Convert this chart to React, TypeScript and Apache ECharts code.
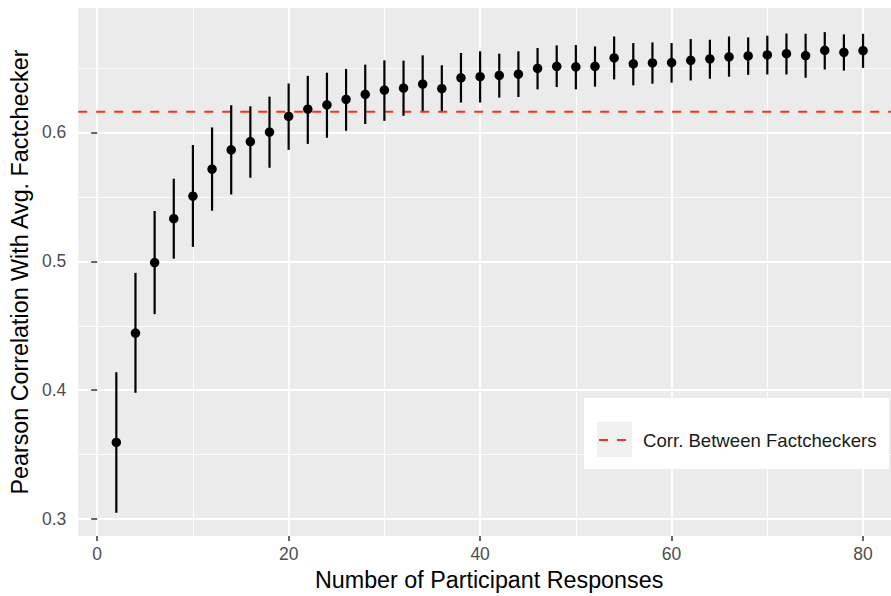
import React, { useEffect, useRef } from "react";
import * as echarts from "echarts";

const responses = [2,4,6,8,10,12,14,16,18,20,22,24,26,28,30,32,34,36,38,40,42,44,46,48,50,52,54,56,58,60,62,64,66,68,70,72,74,76,78,80];
const meanCorr = [0.3595,0.4443,0.499,0.533,0.5505,0.5715,0.5864,0.5928,0.6002,0.6123,0.6179,0.6212,0.6256,0.6295,0.6328,0.6343,0.6374,0.6338,0.6423,0.6431,0.6441,0.6451,0.6495,0.6512,0.6508,0.6512,0.6577,0.6531,0.6538,0.6541,0.6558,0.6569,0.6585,0.6592,0.66,0.661,0.6595,0.6636,0.662,0.6633];
const upperCorr = [0.414,0.491,0.539,0.564,0.5902,0.6038,0.621,0.6202,0.6277,0.6379,0.6438,0.6462,0.6492,0.6525,0.6558,0.6556,0.6597,0.652,0.6615,0.6628,0.661,0.6628,0.6654,0.6674,0.6677,0.6666,0.6743,0.6692,0.6697,0.6692,0.6723,0.6718,0.6743,0.6736,0.6749,0.6766,0.6764,0.6777,0.6759,0.6764];
const lowerCorr = [0.305,0.398,0.459,0.502,0.5112,0.5392,0.5518,0.5648,0.5725,0.5864,0.591,0.5958,0.6012,0.6064,0.6089,0.6128,0.6166,0.6166,0.6231,0.6231,0.6269,0.6274,0.6333,0.6351,0.6333,0.6354,0.641,0.6364,0.6377,0.6385,0.6402,0.6415,0.6431,0.6446,0.6449,0.6449,0.6423,0.6487,0.6479,0.65];
const factcheckerCorr = 0.6159;

const xMajorTicks = [0, 20, 40, 60, 80];
const xMinorTicks = [10, 30, 50, 70];
const yMajorTicks = [0.3, 0.4, 0.5, 0.6];
const yMinorTicks = [0.35, 0.45, 0.55, 0.65];

const legendLabel = "Corr. Between Factcheckers";
const xTitle = "Number of Participant Responses";
const yTitle = "Pearson Correlation With Avg. Factchecker";

const FONT = "'Liberation Sans', Arial, Helvetica, sans-serif";

export default function App() {
  const ref = useRef<HTMLDivElement>(null);
  useEffect(() => {
    if (!ref.current) return;
    const chart = echarts.init(ref.current, undefined, { renderer: "svg" });
    const xMin = -1.98, xMax = 82.92, yMin = 0.2869, yMax = 0.6964;
    const errData = responses.map((n, i) => [n, lowerCorr[i], upperCorr[i]]);
    const ptData = responses.map((n, i) => [n, meanCorr[i]]);
    const refLineData = [[xMin, factcheckerCorr], [xMax, factcheckerCorr]];
    const grid = { left: 76, top: 8, right: 0, bottom: 56, show: true, backgroundColor: "#EBEBEB", borderWidth: 0 };
    const majorSplit = { show: true, lineStyle: { color: "#FFFFFF", width: 1.8 } };
    const minorSplit = { show: true, lineStyle: { color: "#FFFFFF", width: 0.9 } };
    chart.setOption({
      animation: false,
      backgroundColor: "#FFFFFF",
      textStyle: { fontFamily: FONT },
      grid,
      xAxis: [
        {
          type: "value", min: xMin, max: xMax, position: "bottom",
          axisLine: { show: false },
          axisTick: { show: true, length: 5, lineStyle: { color: "#333333", width: 1.5 }, customValues: xMajorTicks },
          axisLabel: { show: true, customValues: xMajorTicks, color: "#4D4D4D", fontSize: 17.5, margin: 9, fontFamily: FONT },
          splitLine: majorSplit,
          name: xTitle, nameLocation: "middle", nameGap: 28,
          nameTextStyle: { fontSize: 23.3, color: "#000000", fontFamily: FONT, padding: [0, 0, 0, 9] },
          z: 1,
        },
        {
          type: "value", min: xMin, max: xMax, position: "bottom",
          axisLine: { show: false },
          axisTick: { show: false, customValues: xMinorTicks },
          axisLabel: { show: false, customValues: xMinorTicks },
          splitLine: minorSplit,
          z: 0,
        },
      ],
      yAxis: [
        {
          type: "value", min: yMin, max: yMax, position: "left",
          axisLine: { show: false },
          axisTick: { show: true, length: 6, lineStyle: { color: "#333333", width: 1.5 }, customValues: yMajorTicks },
          axisLabel: { show: true, customValues: yMajorTicks, color: "#4D4D4D", fontSize: 17.5, margin: 12, fontFamily: FONT, formatter: (v: number) => v.toFixed(1) },
          splitLine: majorSplit,
          name: yTitle, nameLocation: "middle", nameGap: 44,
          nameTextStyle: { fontSize: 23.3, color: "#000000", fontFamily: FONT },
          z: 1,
        },
        {
          type: "value", min: yMin, max: yMax, position: "left",
          axisLine: { show: false },
          axisTick: { show: false, customValues: yMinorTicks },
          axisLabel: { show: false, customValues: yMinorTicks },
          splitLine: minorSplit,
          z: 0,
        },
      ],
      series: [
        {
          type: "line",
          xAxisIndex: 0, yAxisIndex: 0,
          data: refLineData,
          showSymbol: false,
          symbol: "none",
          silent: true,
          lineStyle: { color: "#F8301A", width: 2, type: [9, 9] },
          z: 2,
        },
        {
          type: "custom",
          xAxisIndex: 0, yAxisIndex: 0,
          data: errData,
          z: 3,
          renderItem: (params: any, api: any) => {
            const x = api.value(0);
            const p1 = api.coord([x, api.value(1)]);
            const p2 = api.coord([x, api.value(2)]);
            return {
              type: "line",
              shape: { x1: p1[0], y1: p1[1], x2: p2[0], y2: p2[1] },
              style: { stroke: "#000000", lineWidth: 2.2 },
            };
          },
        },
        {
          type: "scatter",
          xAxisIndex: 0, yAxisIndex: 0,
          data: ptData,
          symbol: "circle",
          symbolSize: 9.5,
          itemStyle: { color: "#000000", opacity: 1 },
          z: 4,
        },
      ],
      graphic: [
        {
          type: "group",
          left: 584, top: 398,
          z: 100,
          children: [
            { type: "rect", z: 100, shape: { x: 0, y: 0, width: 305, height: 71 }, style: { fill: "#FFFFFF" } },
            { type: "rect", z: 101, shape: { x: 13, y: 24, width: 35, height: 35 }, style: { fill: "#F0F0F0" } },
            { type: "line", z: 102, shape: { x1: 15, y1: 42, x2: 44, y2: 42 }, style: { stroke: "#F8301A", lineWidth: 2, lineDash: [9, 9] } },
            { type: "text", z: 102, x: 59, y: 42, style: { text: legendLabel, fontSize: 18.6, fill: "#1A1A1A", fontFamily: FONT, verticalAlign: "middle", align: "left" } },
          ],
        },
      ],
    });
    return () => chart.dispose();
  }, []);
  return <div ref={ref} style={{ position: "fixed", left: 0, top: 0, width: 891, height: 596 }} />;
}
